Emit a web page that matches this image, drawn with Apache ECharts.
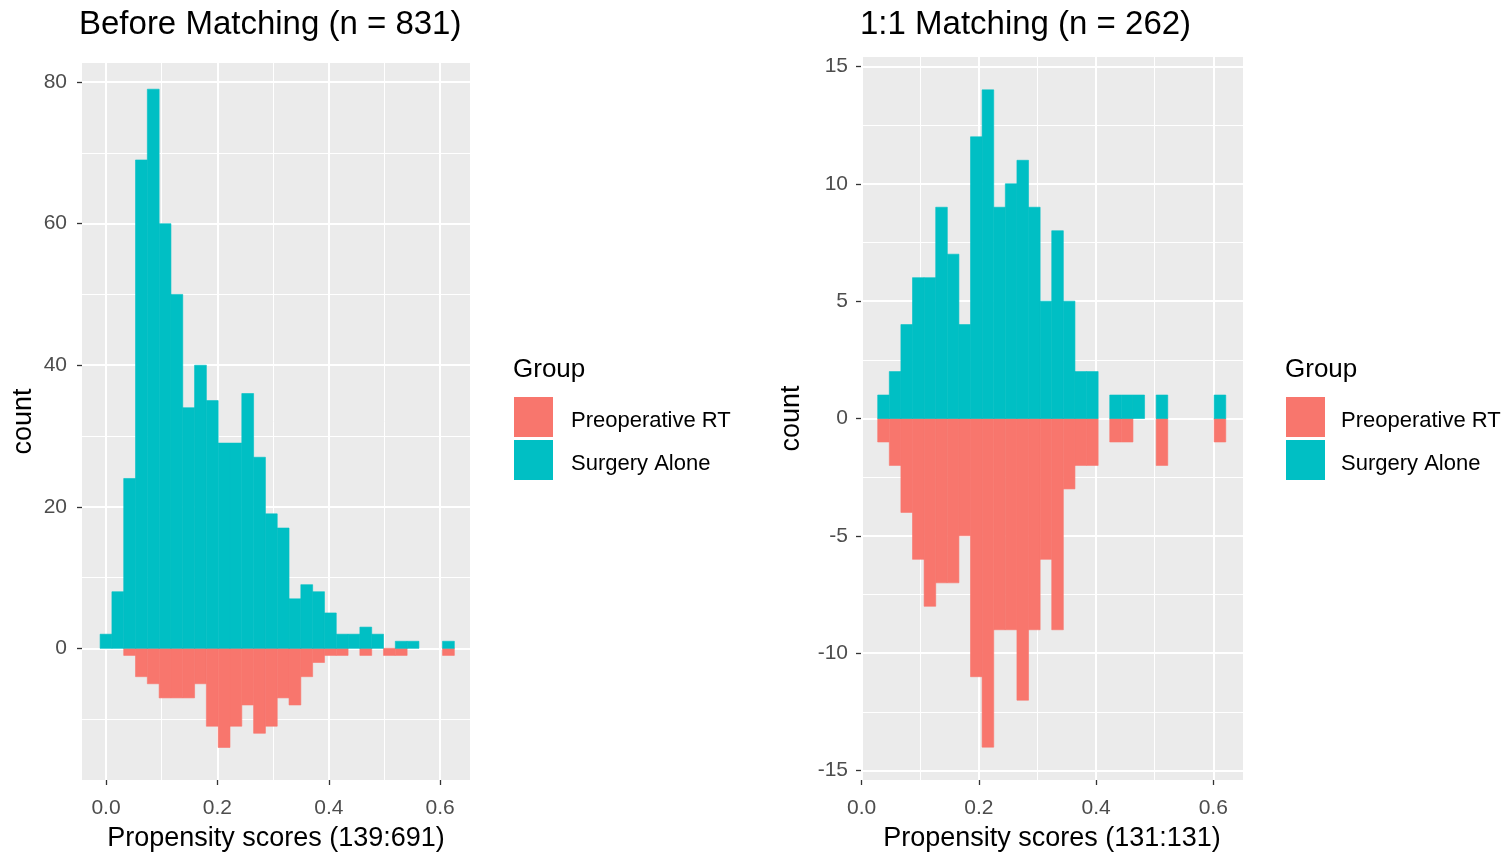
<!DOCTYPE html>
<html>
<head>
<meta charset="utf-8">
<script src="https://cdn.jsdelivr.net/npm/echarts@6/dist/echarts.min.js"></script>
<style>
  html, body { margin: 0; padding: 0; background: #fff; }
  #chart { width: 1509px; height: 853px; }
</style>
</head>
<body>
<div id="chart"></div>
<script>
const FONT = '"Liberation Sans", Arial, Helvetica, sans-serif';

const groupNames = ['Preoperative RT', 'Surgery Alone'];
const groupColors = ['#F8766D', '#00BFC4'];

// Before matching: 30 equal-width bins of propensity score
const beforeFirstCenter = 0.0;
const beforeBinWidth = 0.0212;
const beforeSurgery = [2, 8, 24, 69, 79, 60, 50, 34, 40, 35, 29, 29, 36, 27, 19, 17, 7, 9, 8, 5, 2, 2, 3, 2, 0, 1, 1, 0, 0, 1];
const beforePreop   = [0, 0, 1, 4, 5, 7, 7, 7, 5, 11, 14, 11, 8, 12, 11, 7, 8, 4, 2, 1, 1, 0, 1, 0, 1, 1, 0, 0, 0, 1];

// After 1:1 matching
const afterFirstCenter = 0.0372;
const afterBinWidth = 0.0198;
const afterSurgery = [1, 2, 4, 6, 6, 9, 7, 4, 12, 14, 9, 10, 11, 9, 5, 8, 5, 2, 2, 0, 1, 1, 1, 0, 1, 0, 0, 0, 0, 1];
const afterPreop   = [1, 2, 4, 6, 8, 7, 7, 5, 11, 14, 9, 9, 12, 9, 6, 9, 3, 2, 2, 0, 1, 1, 0, 0, 2, 0, 0, 0, 0, 1];

// Axis breaks
const beforeXMajor = [0, 0.2, 0.4, 0.6];
const beforeXMinor = [0.1, 0.3, 0.5];
const beforeYMajor = [0, 20, 40, 60, 80];
const beforeYMinor = [-10, 10, 30, 50, 70];
const afterXMajor = [0, 0.2, 0.4, 0.6];
const afterXMinor = [0.1, 0.3, 0.5];
const afterYMajor = [-15, -10, -5, 0, 5, 10, 15];
const afterYMinor = [-12.5, -7.5, -2.5, 2.5, 7.5, 12.5];

const panelTitles = ['Before Matching (n = 831)', '1:1 Matching (n = 262)'];
const xTitles = ['Propensity scores (139:691)', 'Propensity scores (131:131)'];

// Turn bin counts into [left edge, right edge, signed count]
function toBins(counts, firstCenter, width, sign) {
  const out = [];
  counts.forEach((c, i) => {
    if (!c) return;
    const center = firstCenter + i * width;
    out.push([center - width / 2, center + width / 2, sign * c]);
  });
  return out;
}

function histSeries(name, color, data, idx) {
  return {
    type: 'custom',
    name: name,
    xAxisIndex: idx,
    yAxisIndex: idx,
    itemStyle: { color: color },
    encode: { x: [0, 1], y: 2 },
    data: data,
    silent: true,
    renderItem: function (params, api) {
      const a = api.coord([api.value(0), 0]);
      const b = api.coord([api.value(1), api.value(2)]);
      return {
        type: 'rect',
        shape: {
          x: a[0],
          y: Math.min(a[1], b[1]),
          width: b[0] - a[0],
          height: Math.abs(b[1] - a[1])
        },
        style: { fill: color, stroke: color, lineWidth: 0.6 }
      };
    }
  };
}

function majorAxis(gridIndex, min, max, ticks, fmt, labelOpt, name, nameGap) {
  return {
    type: 'value',
    gridIndex: gridIndex,
    min: min,
    max: max,
    name: name,
    nameLocation: 'middle',
    nameGap: nameGap,
    nameTextStyle: { fontFamily: FONT, fontSize: 27, color: '#000' },
    axisLine: { show: false, onZero: false },
    axisTick: { show: true, customValues: ticks, length: 5, lineStyle: { color: '#333', width: 1.3 } },
    axisLabel: Object.assign({ customValues: ticks, formatter: fmt, color: '#4D4D4D', fontFamily: FONT, fontSize: 21 }, labelOpt),
    splitLine: { show: true, lineStyle: { color: '#FFFFFF', width: 2 } }
  };
}

function minorAxis(gridIndex, min, max, ticks) {
  return {
    type: 'value',
    gridIndex: gridIndex,
    min: min,
    max: max,
    axisLine: { show: false, onZero: false },
    axisTick: { show: false, customValues: ticks },
    axisLabel: { show: false },
    splitLine: { show: true, lineStyle: { color: '#FFFFFF', width: 1 } }
  };
}

const fmtX = v => v.toFixed(1);
const fmtY = v => String(v);

const beforeX = [-0.0431, 0.6535];
const beforeY = [-18.6, 82.7];
const afterX = [-0.0012, 0.6507];
const afterY = [-15.4, 15.4];

const titleStyle = size => ({ fontFamily: FONT, fontSize: size, fontWeight: 'normal', color: '#000' });

const chart = echarts.init(document.getElementById('chart'), null, { renderer: 'canvas' });

chart.setOption({
  animation: false,
  backgroundColor: '#FFFFFF',
  title: [
    { text: panelTitles[0], left: 79, top: 8, padding: 0, textStyle: titleStyle(33) },
    { text: panelTitles[1], left: 860, top: 8, padding: 0, textStyle: titleStyle(33) },
    { text: 'Group', left: 513, top: 357, padding: 0, textStyle: titleStyle(26) },
    { text: 'Group', left: 1285, top: 357, padding: 0, textStyle: titleStyle(26) }
  ],
  legend: [0, 1].map(i => ({
    data: groupNames,
    orient: 'vertical',
    left: i === 0 ? 514 : 1286,
    top: 397,
    padding: 0,
    itemWidth: 39,
    itemHeight: 40,
    itemGap: 3,
    icon: 'rect',
    selectedMode: false,
    formatter: name => '{t|' + name + '}',
    textStyle: {
      fontFamily: FONT, fontSize: 22, color: '#000',
      rich: {
        t: { fontFamily: FONT, fontSize: 22, color: '#000', padding: [8, 0, 0, i === 0 ? 13 : 11] }
      }
    }
  })),
  grid: [
    { left: 82, top: 63, width: 388, height: 717, outerBoundsMode: 'none', containLabel: false,
      show: true, backgroundColor: '#EBEBEB', borderWidth: 0 },
    { left: 861, top: 57, width: 382, height: 723, outerBoundsMode: 'none', containLabel: false,
      show: true, backgroundColor: '#EBEBEB', borderWidth: 0 }
  ],
  xAxis: [
    majorAxis(0, beforeX[0], beforeX[1], beforeXMajor, fmtX, { margin: 18 }, xTitles[0], 45),
    majorAxis(1, afterX[0], afterX[1], afterXMajor, fmtX, { margin: 18 }, xTitles[1], 45),
    minorAxis(0, beforeX[0], beforeX[1], beforeXMinor),
    minorAxis(1, afterX[0], afterX[1], afterXMinor)
  ],
  yAxis: [
    majorAxis(0, beforeY[0], beforeY[1], beforeYMajor, fmtY, { margin: 15, padding: [4, 0, 0, 0] }, 'count', 45),
    majorAxis(1, afterY[0], afterY[1], afterYMajor, fmtY, { margin: 13, padding: [4, 0, 0, 0] }, 'count', 56),
    minorAxis(0, beforeY[0], beforeY[1], beforeYMinor),
    minorAxis(1, afterY[0], afterY[1], afterYMinor)
  ],
  series: [
    histSeries(groupNames[0], groupColors[0], toBins(beforePreop, beforeFirstCenter, beforeBinWidth, -1), 0),
    histSeries(groupNames[1], groupColors[1], toBins(beforeSurgery, beforeFirstCenter, beforeBinWidth, 1), 0),
    histSeries(groupNames[0], groupColors[0], toBins(afterPreop, afterFirstCenter, afterBinWidth, -1), 1),
    histSeries(groupNames[1], groupColors[1], toBins(afterSurgery, afterFirstCenter, afterBinWidth, 1), 1)
  ]
});
</script>
</body>
</html>
